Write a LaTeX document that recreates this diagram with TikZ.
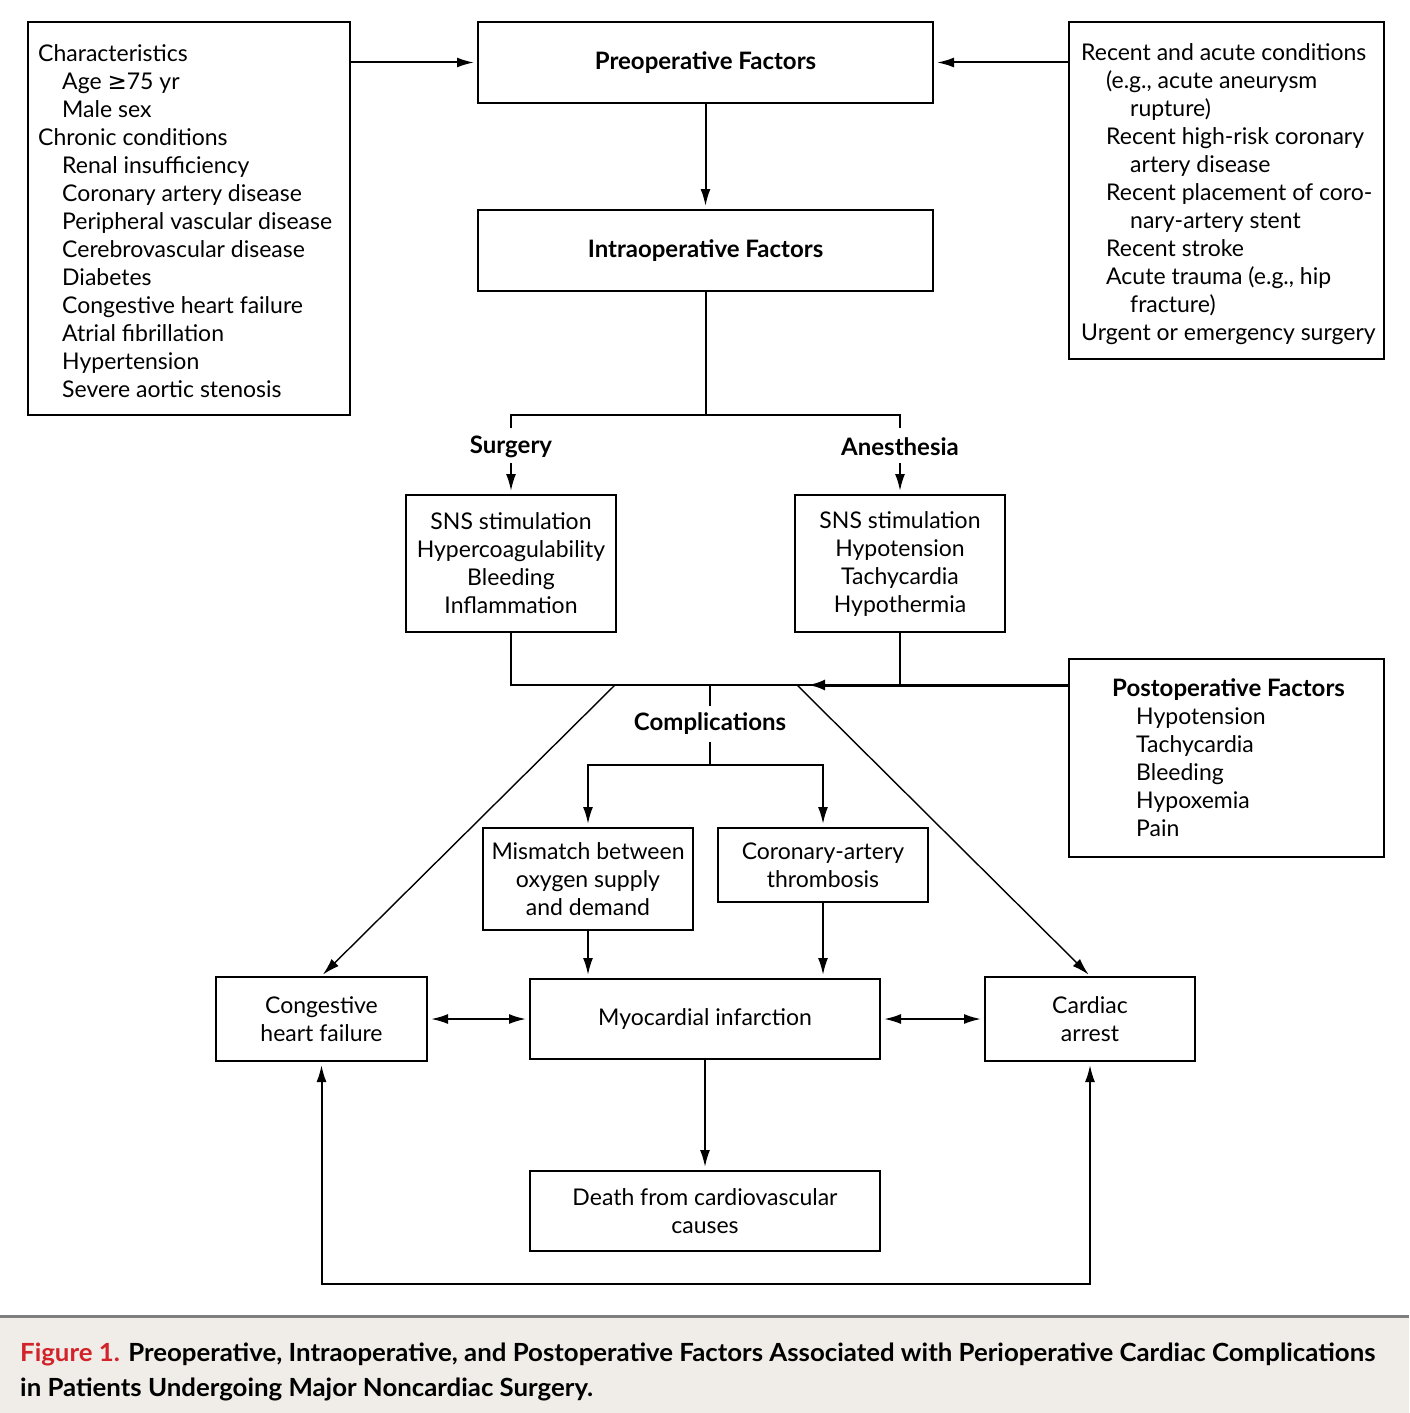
\documentclass[tikz,border=0pt]{standalone}
\usepackage{fontspec}
\setmainfont{Lato}
\newfontfamily\symf{DejaVu Sans}
\usetikzlibrary{arrows.meta}
\definecolor{capred}{HTML}{D2232A}
\definecolor{capbg}{HTML}{F0EDE8}
\definecolor{rulegray}{HTML}{7F7F7F}
\newcommand\mainsz{\fontsize{23}{28}\selectfont}
\newcommand\boldsz{\fontsize{24}{28}\selectfont\bfseries}
\newcommand\ind{\hspace*{24pt}}
\newcommand\indd{\hspace*{49pt}}
\newcommand\capsz{\fontsize{25}{30}\selectfont\bfseries}
\newcommand\capA{\textcolor{capred}{Figure 1.} Preoperative, Intraoperative, and Postoperative Factors Associated with Perioperative Cardiac Complications}
\newcommand\capB{in Patients Undergoing Major Noncardiac Surgery.}
\newlength\capW
\tikzset{
  box/.style={draw, line width=2pt, inner sep=0pt, align=center, font=\mainsz},
  txt/.style={inner sep=0pt, align=left, font=\mainsz},
  lab/.style={inner sep=0pt, font=\boldsz},
  conn/.style={line width=2pt},
  arr/.style={line width=2pt, -{Latex[length=17pt,width=10pt]}, shorten >=3pt},
  darr/.style={line width=2pt, {Latex[length=17pt,width=10pt]}-{Latex[length=17pt,width=10pt]}, shorten >=3pt, shorten <=3pt},
  diag/.style={line width=1.4pt, -{Latex[length=17pt,width=10pt]}, shorten >=2pt},
}
\begin{document}
\settowidth\capW{\capsz\capA}
\pgfmathsetmacro\capf{1355/\capW}
\begin{tikzpicture}[x=1pt,y=-1pt]
\useasboundingbox (0,0) rectangle (1409,1413);
\fill[white] (0,0) rectangle (1409,1413);
% caption background
\fill[capbg] (0,1317) rectangle (1409,1413);
\draw[rulegray, line width=3pt] (0,1316) -- (1409,1316);

% top row
\node[box, minimum width=322pt, minimum height=393pt] (left) at (189,218.5) {};
\node[txt, anchor=west] (leftt) at (38,221) {Characteristics\\
\ind Age {\symf ≥}75 yr\\
\ind Male sex\\
Chronic conditions\\
\ind Renal insufficiency\\
\ind Coronary artery disease\\
\ind Peripheral vascular disease\\
\ind Cerebrovascular disease\\
\ind Diabetes\\
\ind Congestive heart failure\\
\ind Atrial fibrillation\\
\ind Hypertension\\
\ind Severe aortic stenosis};

\node[box, minimum width=455pt, minimum height=81pt, font=\boldsz] (preop) at (705.5,62.5) {Preoperative Factors};
\node[box, minimum width=455pt, minimum height=81pt, font=\boldsz] (intra) at (705.5,250.5) {Intraoperative Factors};

\node[box, minimum width=315pt, minimum height=337pt] (right) at (1226.5,190.5) {};
\node[txt, anchor=west] (rightt) at (1081,194) {Recent and acute conditions\\
\hspace*{25pt}(e.g., acute aneurysm\\
\indd rupture)\\
\hspace*{25pt}Recent high-risk coronary\\
\indd artery disease\\
\hspace*{25pt}Recent placement of coro-\\
\indd nary-artery stent\\
\hspace*{25pt}Recent stroke\\
\hspace*{25pt}Acute trauma (e.g., hip\\
\indd fracture)\\
Urgent or emergency surgery};

\draw[arr] (left.east |- preop) -- (preop.west);
\draw[arr] (right.west |- preop) -- (preop.east);
\draw[arr] (preop.south) -- (intra.north);

% intraoperative branches
\coordinate (jt) at (705.5,415);
\coordinate (bl) at (511,428);
\coordinate (br) at (900,428);
\draw[conn] (intra.south) -- (jt);
\draw[conn] (bl) |- (jt) -| (br);

\node[lab] (surglab) at (511,447) {Surgery};
\node[lab] (aneslab) at (900,447) {Anesthesia};
\node[box, minimum width=210pt, minimum height=137pt] (surg) at (511,563.5) {SNS stimulation\\Hypercoagulability\\Bleeding\\Inflammation};
\node[box, minimum width=210pt, minimum height=137pt] (anes) at (900,563.5) {SNS stimulation\\Hypotension\\Tachycardia\\Hypothermia};
\draw[arr] (511,463) -- (surg.north);
\draw[arr] (900,463) -- (anes.north);

% postoperative
\node[box, minimum width=315pt, minimum height=198pt] (post) at (1226.5,758) {};
\node[txt, anchor=west] (postt) at (1112,758) {{\boldsz Postoperative Factors}\\
\ind Hypotension\\
\ind Tachycardia\\
\ind Bleeding\\
\ind Hypoxemia\\
\ind Pain};

% bus
\coordinate (pin) at (1069,685);
\coordinate (tipl) at (808,685);
\coordinate (cj) at (710,685);
\coordinate (dl) at (615,685);
\coordinate (dr) at (797,685);
\draw[conn] (surg.south) |- (pin);
\draw[conn] (anes.south) -- (anes.south |- pin);
\draw[line width=3pt, -{Latex[length=17pt,width=11pt]}] (pin) -- (tipl);

% complications
\node[lab, inner ysep=7pt] (comp) at (710,724) {Complications};
\draw[conn] (cj) -- (comp.north);
\coordinate (cb) at (710,765);
\draw[conn] (comp.south) -- (cb);

\node[box, minimum width=210pt, minimum height=102pt] (mis) at (588,879) {Mismatch between\\oxygen supply\\and demand};
\node[box, minimum width=210pt, minimum height=74pt] (cor) at (823,865) {Coronary-artery\\thrombosis};
\draw[arr] (cb) -| (mis.north);
\draw[arr] (cb) -| (cor.north);

% bottom row
\node[box, minimum width=350pt, minimum height=80pt] (mi) at (705,1019) {Myocardial infarction};
\node[box, minimum width=211pt, minimum height=84pt] (chf) at (321.5,1019) {Congestive\\heart failure};
\node[box, minimum width=210pt, minimum height=84pt] (ca) at (1090,1019) {Cardiac\\arrest};
\node[box, minimum width=350pt, minimum height=80pt] (death) at (705,1211) {Death from cardiovascular\\causes};

\draw[arr] (mis.south) -- (mis.south |- mi.north);
\draw[arr] (cor.south) -- (cor.south |- mi.north);
\draw[diag] (dl) -- (chf.north);
\draw[diag] (dr) -- (ca.north);
\draw[darr] (chf.east) -- (mi.west);
\draw[darr] (mi.east) -- (ca.west);
\draw[arr] (mi.south) -- (death.north);
\coordinate (botc) at (705,1284);
\draw[darr] (chf.south) |- (botc) -| (ca.south);

% caption
\node[inner sep=0pt, anchor=base west, font=\capsz] (cap1) at (20,1361) {\scalebox{\capf}[1]{\capA}};
\node[inner sep=0pt, anchor=base west, font=\capsz] (cap2) at (20,1396) {\scalebox{\capf}[1]{\capB}};
\end{tikzpicture}
\end{document}
